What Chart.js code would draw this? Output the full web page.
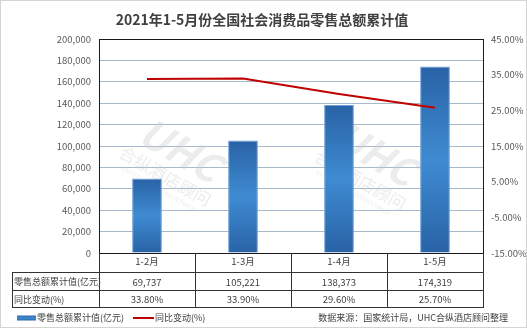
<!DOCTYPE html>
<html>
<head>
<meta charset="utf-8">
<script src="https://cdn.jsdelivr.net/npm/chart.js@4.4.0/dist/chart.umd.min.js"></script>
<style>
  html, body { margin: 0; padding: 0; background: #fff; }
</style>
</head>
<body>
<canvas id="retailChart" width="527" height="328"></canvas>
<script>
var months = ['1-2月', '1-3月', '1-4月', '1-5月'];
var retailTotal = [69737, 105221, 138373, 174319];
var yoyChange = [33.8, 33.9, 29.6, 25.7];
var barName = '零售总额累计值(亿元)';
var lineName = '同比变动(%)';
var titleText = '2021年1-5月份全国社会消费品零售总额累计值';
var sourceText = '数据来源：国家统计局，UHC合纵酒店顾问整理';

var FONT = '"Noto Sans CJK SC", "Noto Sans", sans-serif';
Chart.defaults.font.family = FONT;
Chart.defaults.font.size = 9.5;
Chart.defaults.color = '#595959';

// vertical dark-light-dark fill for each bar
var barFill = function (context) {
  var chart = context.chart;
  if (!chart.chartArea || context.dataIndex === undefined) return '#3a7fc4';
  var y = chart.scales.y;
  var top = y.getPixelForValue(retailTotal[context.dataIndex]);
  var base = y.getPixelForValue(0);
  var g = chart.ctx.createLinearGradient(0, top, 0, base);
  g.addColorStop(0, '#2962a5');
  g.addColorStop(0.5, '#3f8bd2');
  g.addColorStop(1, '#2962a5');
  return g;
};

var fmt = function (v) { return v.toLocaleString('en-US'); };

var extras = {
  id: 'extras',
  beforeDatasetsDraw: function (chart) {
    var ctx = chart.ctx;
    // faint watermark behind the bars
    ctx.save();
    ctx.fillStyle = 'rgba(200,200,200,0.35)';
    [[170, 168], [365, 172]].forEach(function (p) {
      ctx.save();
      ctx.translate(p[0], p[1]);
      ctx.rotate(Math.PI / 6);
      ctx.font = 'italic bold 40px ' + FONT;
      ctx.textAlign = 'center';
      ctx.fillText('UHC', 0, -6);
      ctx.font = '17px ' + FONT;
      ctx.fillText('合纵酒店顾问', 0, 16);
      ctx.font = '6px ' + FONT;
      ctx.fillText('UNITED HOTEL CONSULTANCY', 0, 26);
      ctx.restore();
    });
    ctx.restore();
  },
  afterDraw: function (chart) {
    var ctx = chart.ctx;
    var a = chart.chartArea;
    var xs = chart.scales.x;
    ctx.save();

    // outer frame
    ctx.strokeStyle = '#d4d4d4';
    ctx.lineWidth = 1;
    ctx.strokeRect(0.5, 0.5, 526, 327);

    // title
    ctx.fillStyle = '#404040';
    ctx.font = 'bold 14px ' + FONT;
    ctx.textAlign = 'center';
    ctx.textBaseline = 'middle';
    ctx.fillText(titleText, 262, 20);

    // plot border
    ctx.strokeStyle = '#1a1a1a';
    ctx.strokeRect(Math.round(a.left) + 0.5, Math.round(a.top) + 0.5,
      Math.round(a.right - a.left), Math.round(a.bottom - a.top));

    // data table under the plot
    var rowTop = xs.bottom, rowMid = rowTop + 18, rowBot = rowTop + 35;
    var tableLeft = 12;
    ctx.strokeStyle = '#333';
    ctx.beginPath();
    [rowTop, rowMid, rowBot].forEach(function (y) {
      ctx.moveTo(tableLeft, Math.round(y) + 0.5);
      ctx.lineTo(Math.round(a.right) + 1, Math.round(y) + 0.5);
    });
    ctx.moveTo(tableLeft + 0.5, rowTop);
    ctx.lineTo(tableLeft + 0.5, rowBot);
    var edges = [a.left];
    for (var i = 0; i < months.length - 1; i++) {
      edges.push((xs.getPixelForValue(i) + xs.getPixelForValue(i + 1)) / 2);
    }
    edges.push(a.right);
    edges.forEach(function (x) {
      ctx.moveTo(Math.round(x) + 0.5, a.bottom);
      ctx.lineTo(Math.round(x) + 0.5, rowBot);
    });
    ctx.stroke();

    ctx.fillStyle = '#404040';
    ctx.font = '9px ' + FONT;
    ctx.textAlign = 'left';
    ctx.fillText(barName, tableLeft + 2, (rowTop + rowMid) / 2 + 1);
    ctx.fillText(lineName, tableLeft + 2, (rowMid + rowBot) / 2 + 1);
    ctx.textAlign = 'center';
    ctx.font = '9.5px ' + FONT;
    months.forEach(function (m, i) {
      var x = xs.getPixelForValue(i);
      ctx.fillText(fmt(retailTotal[i]), x, (rowTop + rowMid) / 2 + 1);
      ctx.fillText(yoyChange[i].toFixed(2) + '%', x, (rowMid + rowBot) / 2 + 1);
    });

    // legend and source note
    var ly = 318;
    var grad = ctx.createLinearGradient(0, ly - 3, 0, ly + 3);
    grad.addColorStop(0, '#2962a5');
    grad.addColorStop(0.5, '#3f8bd2');
    grad.addColorStop(1, '#2962a5');
    ctx.fillStyle = grad;
    ctx.fillRect(17, ly - 2.5, 19, 5);
    ctx.strokeStyle = '#c00000';
    ctx.lineWidth = 2;
    ctx.beginPath();
    ctx.moveTo(133, ly);
    ctx.lineTo(154, ly);
    ctx.stroke();
    ctx.fillStyle = '#404040';
    ctx.font = '9px ' + FONT;
    ctx.textAlign = 'left';
    ctx.fillText(barName, 37, ly);
    ctx.fillText(lineName, 155, ly);
    ctx.textAlign = 'right';
    ctx.fillText(sourceText, 508, ly);

    ctx.restore();
  }
};

new Chart(document.getElementById('retailChart'), {
  type: 'bar',
  data: {
    labels: months,
    datasets: [
      {
        type: 'line',
        label: lineName,
        data: yoyChange,
        yAxisID: 'y1',
        borderColor: '#c00000',
        borderWidth: 2,
        pointRadius: 0,
        tension: 0,
        order: 0
      },
      {
        label: barName,
        data: retailTotal,
        yAxisID: 'y',
        backgroundColor: barFill,
        borderColor: '#6da2d8',
        borderWidth: 1,
        barPercentage: 0.31,
        categoryPercentage: 1,
        order: 1
      }
    ]
  },
  options: {
    responsive: false,
    animation: false,
    layout: { padding: { top: 39, bottom: 56, left: 0, right: 0 } },
    plugins: {
      legend: { display: false },
      title: { display: false },
      tooltip: { enabled: false }
    },
    scales: {
      x: {
        offset: true,
        grid: { display: false, drawTicks: false },
        border: { display: false },
        ticks: { color: '#404040', padding: 3 },
        afterFit: function (s) { s.height = 19; }
      },
      y: {
        position: 'left',
        min: 0,
        max: 200000,
        ticks: { stepSize: 20000, padding: 8, callback: function (v) { return fmt(v); } },
        grid: { color: '#a9b9cd', drawTicks: false },
        border: { display: false },
        afterFit: function (s) { s.width = 99; }
      },
      y1: {
        position: 'right',
        min: -15,
        max: 45,
        ticks: { stepSize: 10, padding: 8, callback: function (v) { return v.toFixed(2) + '%'; } },
        grid: { display: false, drawTicks: false },
        border: { display: false },
        afterFit: function (s) { s.width = 44; }
      }
    }
  },
  plugins: [extras]
});
</script>
</body>
</html>
